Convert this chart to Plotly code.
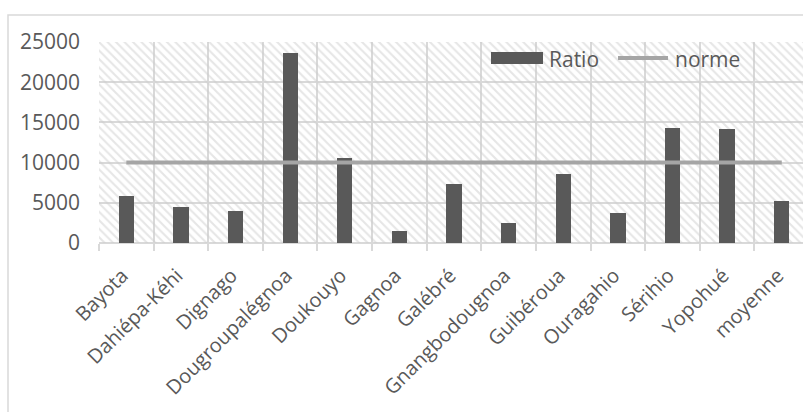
import plotly.graph_objects as go

# Ratio per sous-préfecture, with the reference norm
categories = ["Bayota", "Dahiépa-Kéhi", "Dignago", "Dougroupalégnoa", "Doukouyo",
              "Gagnoa", "Galébré", "Gnangbodougnoa", "Guibéroua", "Ouragahio",
              "Sérihio", "Yopohué", "moyenne"]
ratio = [5800, 4500, 4000, 23600, 10600, 1500, 7400, 2500, 8600, 3700, 14300, 14200, 5200]
norme = [10000] * len(categories)
y_ticks = [0, 5000, 10000, 15000, 20000, 25000]

FONT = "Open Sans"
TEXT = "#595959"
GRID = "#D9D9D9"
BAR = "#595959"
LINE = "#A5A5A5"

fig = go.Figure()

# hatched plot-area background (drawn on the base axes, behind the data)
fig.add_trace(go.Bar(
    x=[0.5], y=[1], width=[1], xaxis="x", yaxis="y",
    marker=dict(color="rgba(0,0,0,0)", line=dict(width=0),
                pattern=dict(shape="\\", size=6, solidity=0.35,
                             fgcolor="#CDCDCD", bgcolor="rgba(0,0,0,0)")),
    hoverinfo="skip", showlegend=False,
))

fig.add_trace(go.Bar(
    x=categories, y=ratio, name="Ratio", width=0.28,
    marker=dict(color=BAR, line=dict(width=0)),
    xaxis="x2", yaxis="y2", showlegend=False,
))
fig.add_trace(go.Scatter(
    x=categories, y=norme, name="norme", mode="lines",
    line=dict(color=LINE, width=4),
    xaxis="x2", yaxis="y2", showlegend=False,
))

cat_px = 54.62
plot_w = 803 - 99

fig.update_layout(
    width=803, height=412,
    margin=dict(l=99, r=0, t=42, b=169),
    paper_bgcolor="white", plot_bgcolor="white",
    font=dict(family=FONT, size=21, color=TEXT),
    xaxis=dict(range=[0, 1], visible=False, fixedrange=True),
    yaxis=dict(range=[0, 1], visible=False, fixedrange=True),
    xaxis2=dict(
        overlaying="x", side="bottom", type="category",
        range=[-0.5, -0.5 + plot_w / cat_px],
        tickson="boundaries", showgrid=True, gridcolor=GRID, gridwidth=1.5,
        ticks="outside", ticklen=7, tickcolor=GRID, tickwidth=1.5,
        tickangle=-45, tickfont=dict(family=FONT, size=20, color=TEXT),
        showline=False, zeroline=False,
        ticklabelstandoff=16, ticklabelshift=-4,
    ),
    yaxis2=dict(
        overlaying="y", side="left", range=[0, 25000],
        tickvals=y_ticks, ticktext=[str(v) for v in y_ticks],
        showgrid=True, gridcolor=GRID, gridwidth=1.5,
        zeroline=True, zerolinecolor=GRID, zerolinewidth=1.5,
        showline=False, ticks="", ticklabelstandoff=18,
        tickfont=dict(family=FONT, size=21, color=TEXT),
    ),
    showlegend=False,
    bargap=0,
)

# chart-area border
fig.add_shape(type="rect", xref="paper", yref="paper",
              x0=-91 / plot_w, x1=1.2, y0=-1.5, y1=1 + 27 / 201,
              line=dict(color=GRID, width=1.5), fillcolor="rgba(0,0,0,0)", layer="below")

# legend drawn inside the plot area
def px_x(p):
    return (p - 99) / plot_w

def px_y(p):
    return (243 - p) / 201

fig.add_shape(type="rect", xref="paper", yref="paper",
              x0=px_x(491), x1=px_x(543), y0=px_y(64), y1=px_y(52),
              fillcolor=BAR, line=dict(width=0))
fig.add_annotation(xref="paper", yref="paper", x=px_x(547), y=px_y(59),
                   text="Ratio", showarrow=False, xanchor="left", yanchor="middle",
                   font=dict(family=FONT, size=21, color=TEXT))
fig.add_shape(type="line", xref="paper", yref="paper",
              x0=px_x(618), x1=px_x(668), y0=px_y(58), y1=px_y(58),
              line=dict(color=LINE, width=4))
fig.add_annotation(xref="paper", yref="paper", x=px_x(673), y=px_y(59),
                   text="norme", showarrow=False, xanchor="left", yanchor="middle",
                   font=dict(family=FONT, size=21, color=TEXT))

fig.write_html("out.html")
